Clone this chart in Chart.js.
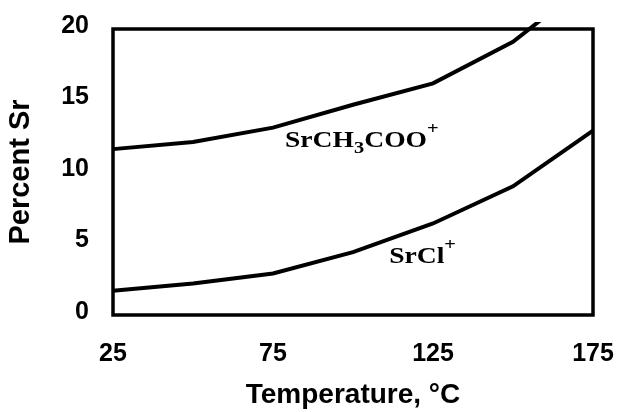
<!DOCTYPE html>
<html>
<head>
<meta charset="utf-8">
<script src="https://cdn.jsdelivr.net/npm/chart.js@4"></script>
<style>
  html, body { margin: 0; padding: 0; background: #fff; }
  #wrap { width: 621px; height: 412px; }
</style>
</head>
<body>
<div id="wrap"><canvas id="myChart" width="621" height="412"></canvas></div>
<script>
// temperatures (°C) and percent Sr
const temps = [25, 50, 75, 100, 125, 150, 175];
const acetate = [11.6, 12.1, 13.1, 14.7, 16.2, 19.1, 23.5]; // SrCH3COO+
const chloride = [1.7, 2.2, 2.9, 4.4, 6.4, 9.0, 12.9];     // SrCl+
const xTicks = [25, 75, 125, 175];
const yTicks = [0, 5, 10, 15, 20];

const ink = "#000";
const sans = "'Liberation Sans', Arial, sans-serif";
const serif = "'Liberation Serif', 'Times New Roman', serif";

function toPoints(ys) {
  return temps.map((t, i) => ({ x: t, y: ys[i] }));
}

// frame around the plot area
const frame = {
  id: "frame",
  afterDatasetsDraw(chart) {
    const { left, top, right, bottom } = chart.chartArea;
    const ctx = chart.ctx;
    ctx.save();
    ctx.strokeStyle = ink;
    ctx.lineWidth = 3.5;
    ctx.strokeRect(left, top, right - left, bottom - top);
    ctx.restore();
  },
};

// draws main text plus small sub / super parts; the figure's serif type is wide, so stretch x
function chemLabel(ctx, x, y, parts) {
  ctx.save();
  ctx.translate(x, y);
  ctx.scale(1.2, 1);
  let cx = 0;
  parts.forEach((p) => {
    const size = p.kind ? 17 : 23;
    ctx.font = "bold " + size + "px " + serif;
    let dy = 0;
    if (p.kind === "sub") dy = 6;
    if (p.kind === "sup") dy = -13;
    ctx.fillText(p.t, cx, dy);
    cx += ctx.measureText(p.t).width;
  });
  ctx.restore();
}

const labels = {
  id: "labels",
  afterDatasetsDraw(chart) {
    const xs = chart.scales.x;
    const ys = chart.scales.y;
    const ctx = chart.ctx;
    ctx.save();
    ctx.fillStyle = ink;
    ctx.textBaseline = "alphabetic";
    ctx.textAlign = "left";
    chemLabel(ctx, xs.getPixelForValue(78.75), ys.getPixelForValue(11.73), [
      { t: "SrCH" },
      { t: "3", kind: "sub" },
      { t: "COO" },
      { t: "+", kind: "sup" },
    ]);
    chemLabel(ctx, xs.getPixelForValue(111.3), ys.getPixelForValue(3.62), [
      { t: "SrCl" },
      { t: "+", kind: "sup" },
    ]);
    ctx.restore();
  },
};

const lineStyle = {
  borderColor: ink,
  borderWidth: 4,
  pointRadius: 0,
  tension: 0,
  fill: false,
  clip: { left: 3, top: 7, right: 3, bottom: 3 },
};

const canvasCtx = document.getElementById("myChart").getContext("2d");

new Chart(canvasCtx, {
  type: "line",
  data: {
    datasets: [
      Object.assign({ label: "SrCH3COO+", data: toPoints(acetate) }, lineStyle),
      Object.assign({ label: "SrCl+", data: toPoints(chloride) }, lineStyle),
    ],
  },
  options: {
    responsive: false,
    animation: false,
    layout: { padding: { left: 4, right: 28, top: 29, bottom: 0 } },
    plugins: { legend: { display: false }, tooltip: { enabled: false } },
    scales: {
      x: {
        type: "linear",
        min: 25,
        max: 175,
        afterBuildTicks: (s) => { s.ticks = xTicks.map((v) => ({ value: v })); },
        afterFit: (s) => {
          s.height = 97;
          s.paddingLeft = 0;
          s.paddingRight = 0;
        },
        grid: { display: false, drawTicks: false },
        border: { display: false },
        ticks: { color: ink, padding: 24, font: { family: sans, size: 25, weight: "bold" } },
        title: {
          display: true,
          text: "Temperature, °C",
          color: ink,
          padding: 0,
          font: { family: sans, size: 28, weight: "bold" },
        },
      },
      y: {
        min: 0,
        max: 20,
        afterBuildTicks: (s) => { s.ticks = yTicks.map((v) => ({ value: v })); },
        afterFit: (s) => {
          s.width = 109;
          s.paddingTop = 0;
          s.paddingBottom = 0;
        },
        grid: { display: false, drawTicks: false },
        border: { display: false },
        ticks: { color: ink, padding: 24, labelOffset: -3, font: { family: sans, size: 25, weight: "bold" } },
        title: {
          display: true,
          text: "Percent Sr",
          color: ink,
          padding: 0,
          font: { family: sans, size: 29, weight: "bold" },
        },
      },
    },
  },
  plugins: [frame, labels],
});
</script>
</body>
</html>
